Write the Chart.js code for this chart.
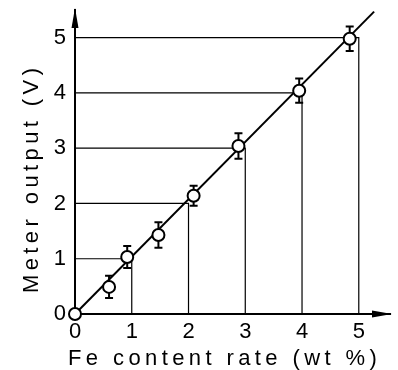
<!DOCTYPE html>
<html>
<head>
<meta charset="utf-8">
<script src="https://cdn.jsdelivr.net/npm/chart.js@4/dist/chart.umd.min.js"></script>
<style>
  html, body { margin: 0; padding: 0; background: #fff; }
  #wrap { width: 398px; height: 370px; }
</style>
</head>
<body>
<div id="wrap"><canvas id="chart" width="398" height="370"></canvas></div>
<script>
// measured points (Fe wt%, meter V) and error bar half-heights
const feContent = [0, 0.6, 0.92, 1.47, 2.09, 2.88, 3.95, 4.84];
const meterOutput = [0, 0.49, 1.03, 1.43, 2.14, 3.04, 4.04, 4.98];
const errorV = [0, 0.2, 0.2, 0.23, 0.18, 0.23, 0.22, 0.22];
// fitted line endpoints
const fitX = [0, 5.27];
const fitY = [0, 5.47];
// drop lines from the axes to the diagonal
const guideValues = [1, 2, 3, 4, 5];
const xTicks = [0, 1, 2, 3, 4, 5];
const yTicks = [0, 1, 2, 3, 4, 5];
const xTitle = "Fe content rate (wt %)";
const yTitle = "Meter output (V)";

const FONT = "'Liberation Sans', Arial, sans-serif";

const guideSets = guideValues.map((v) => ({
  data: [{ x: 0, y: v }, { x: v, y: v }, { x: v, y: 0 }],
  showLine: true,
  borderColor: "#000",
  borderWidth: 1.2,
  pointRadius: 0,
  order: 3,
}));

// error bars, axis arrows and the spaced-out axis titles
const extras = {
  id: "extras",
  afterDatasetsDraw(chart) {
    const ctx = chart.ctx;
    const xs = chart.scales.x, ys = chart.scales.y;
    ctx.save();
    ctx.strokeStyle = "#000";
    ctx.lineWidth = 2;
    feContent.forEach((fx, i) => {
      const e = errorV[i];
      if (!e) return;
      const px = xs.getPixelForValue(fx);
      const top = ys.getPixelForValue(meterOutput[i] + e);
      const bot = ys.getPixelForValue(meterOutput[i] - e);
      const mid = ys.getPixelForValue(meterOutput[i]);
      ctx.beginPath();
      ctx.moveTo(px, top); ctx.lineTo(px, mid - 6);
      ctx.moveTo(px, mid + 6); ctx.lineTo(px, bot);
      ctx.moveTo(px - 4, top); ctx.lineTo(px + 4, top);
      ctx.moveTo(px - 4, bot); ctx.lineTo(px + 4, bot);
      ctx.stroke();
    });
    ctx.restore();
  },
  afterDraw(chart) {
    const ctx = chart.ctx;
    const a = chart.chartArea;
    ctx.save();
    ctx.fillStyle = "#000";
    ctx.beginPath();
    ctx.moveTo(a.left, a.top - 2);
    ctx.lineTo(a.left - 3.5, a.top + 18);
    ctx.lineTo(a.left + 3.5, a.top + 18);
    ctx.closePath();
    ctx.fill();
    ctx.beginPath();
    ctx.moveTo(a.right + 2, a.bottom);
    ctx.lineTo(a.right - 18, a.bottom - 3.5);
    ctx.lineTo(a.right - 18, a.bottom + 3.5);
    ctx.closePath();
    ctx.fill();

    ctx.font = "22px " + FONT;
    ctx.letterSpacing = "4.4px";
    ctx.textAlign = "left";
    ctx.textBaseline = "alphabetic";
    ctx.fillText(xTitle, 68, 365);
    ctx.translate(38, 293);
    ctx.rotate(-Math.PI / 2);
    ctx.fillText(yTitle, 0, 0);
    ctx.restore();
  },
};

new Chart(document.getElementById("chart"), {
  type: "scatter",
  data: {
    datasets: [
      {
        data: feContent.map((x, i) => ({ x, y: meterOutput[i] })),
        pointRadius: 6,
        pointBorderWidth: 2,
        pointBackgroundColor: "#fff",
        pointBorderColor: "#000",
        clip: false,
        order: 1,
      },
      {
        data: fitX.map((x, i) => ({ x, y: fitY[i] })),
        showLine: true,
        borderColor: "#000",
        borderWidth: 2,
        pointRadius: 0,
        clip: false,
        order: 2,
      },
      ...guideSets,
    ],
  },
  options: {
    responsive: false,
    animation: false,
    layout: { padding: { top: 10, right: 5, left: 0, bottom: 0 } },
    plugins: { legend: { display: false }, tooltip: { enabled: false } },
    scales: {
      x: {
        type: "linear",
        min: 0,
        max: 5.55,
        afterBuildTicks: (s) => { s.ticks = xTicks.map((v) => ({ value: v })); },
        afterFit: (s) => { s.height = 56; s.paddingRight = 0; s.paddingLeft = 0; },
        grid: { display: false, drawTicks: false },
        border: { display: true, color: "#000", width: 2 },
        ticks: { color: "#000", padding: 5, maxRotation: 0, font: { family: FONT, size: 22 } },
        title: { display: false, text: xTitle },
      },
      y: {
        type: "linear",
        min: 0,
        max: 5.5,
        afterBuildTicks: (s) => { s.ticks = yTicks.map((v) => ({ value: v })); },
        afterFit: (s) => { s.width = 75; s.paddingTop = 0; s.paddingBottom = 0; },
        grid: { display: false, drawTicks: false },
        border: { display: true, color: "#000", width: 2 },
        ticks: { color: "#000", padding: 9, font: { family: FONT, size: 22 } },
        title: { display: false, text: yTitle },
      },
    },
  },
  plugins: [extras],
});
</script>
</body>
</html>
